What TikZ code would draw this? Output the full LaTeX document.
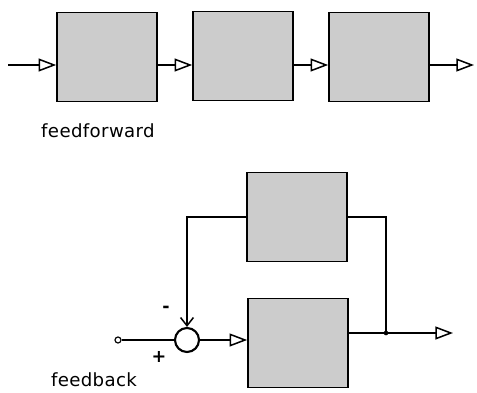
\documentclass[tikz,border=0pt]{standalone}
\usepackage{fontspec}
\newfontfamily\handfont[LetterSpace=2]{DejaVu Sans}
\usetikzlibrary{arrows.meta}
\tikzset{
  block/.style={draw=black, fill=black!20, line width=1.4pt, minimum width=3cm, minimum height=2.67cm, inner sep=0pt},
  wire/.style={line width=1.3pt},
  tip/.style={-{Triangle[open, length=15pt, width=11pt, line width=1.3pt]}},
  label/.style={font=\handfont\fontsize{15.5}{18}\selectfont},
  sign/.style={font=\handfont\bfseries\fontsize{15}{17}\selectfont}
}
\begin{document}
\begin{tikzpicture}[x=0.03cm, y=-0.03cm]
    \useasboundingbox (0,0) rectangle (477,392);

    % 1. Feedforward: ba khối nối tiếp
    \node[block] (f1) at (107,57) {};
    \node[block] (f2) at (243,56) {};
    \node[block] (f3) at (379,57) {};
    \coordinate (ffin) at (8,65);
    \coordinate (ffout) at (474,65);

    \draw[wire, tip] (ffin) -- (ffin -| f1.west);
    \draw[wire, tip] (ffin -| f1.east) -- (ffin -| f2.west);
    \draw[wire, tip] (ffin -| f2.east) -- (ffin -| f3.west);
    \draw[wire, tip] (ffin -| f3.east) -- (ffout);

    \node[label] (fftext) at (98,131) {feedforward};

    % 2. Feedback: bộ cộng và hai khối
    \node[block] (fb1) at (297,217) {};
    \node[block] (fb2) at (298,343) {};
    \node[draw, circle, line width=1.8pt, minimum size=0.72cm, inner sep=0pt] (sum) at (187,340) {};
    \node[draw, circle, line width=1pt, minimum size=0.18cm, inner sep=0pt] (in) at (118,340) {};
    \coordinate (jn) at (386,333);
    \coordinate (fbout) at (453,333);

    \draw[wire] (in) -- (sum);
    \draw[wire, tip] (sum.east) -- (sum -| fb2.west);
    \draw[wire, tip] (fb2.east |- jn) -- (fbout);
    \draw[wire] (fb1.east) -| (jn);
    \draw[wire, -{Straight Barb[length=7pt, width=11pt, line width=1.3pt]}] (fb1.west) -| (sum.north);
    \fill (jn) circle (2pt);

    % Dấu của bộ cộng
    \node[sign] (minus) at (166,309) {-};
    \node[sign] (plus) at (159,357) {+};

    \node[label] (fbtext) at (94,380) {feedback};
\end{tikzpicture}
\end{document}
